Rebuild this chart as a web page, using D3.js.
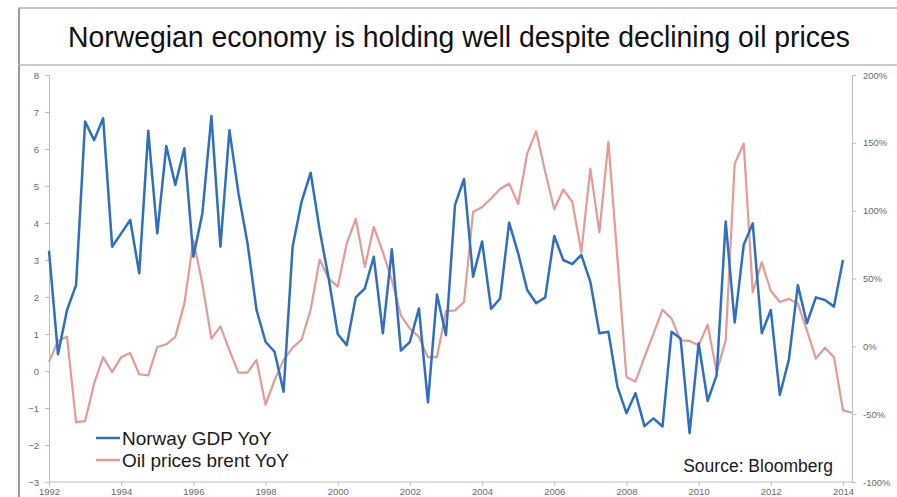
<!DOCTYPE html>
<html>
<head>
<meta charset="utf-8">
<script src="https://cdn.jsdelivr.net/npm/d3@7"></script>
<style>
  html, body { margin: 0; padding: 0; background: #fff; }
  svg { display: block; font-family: "Liberation Sans", Arial, sans-serif; }
</style>
</head>
<body>
<div id="chart"></div>
<script>
// quarterly series, first point is 1992 Q1
const startYear = 1992;
const gdpYoY = [
  3.25, 0.45, 1.65, 2.32, 6.74, 6.24, 6.83, 3.36, 3.72, 4.08,
  2.64, 6.49, 3.72, 6.08, 5.03, 6.02, 3.09, 4.26, 6.89, 3.36,
  6.51, 4.80, 3.46, 1.65, 0.79, 0.52, -0.56, 3.36, 4.58, 5.36,
  3.81, 2.50, 1.00, 0.70, 1.99, 2.23, 3.09, 1.02, 3.29, 0.55,
  0.79, 1.69, -0.85, 2.07, 0.97, 4.49, 5.19, 2.55, 3.50, 1.68,
  1.96, 4.01, 3.18, 2.19, 1.83, 1.99, 3.65, 3.00, 2.89, 3.14,
  2.41, 1.02, 1.06, -0.42, -1.14, -0.60, -1.49, -1.28, -1.50, 1.06,
  0.88, -1.68, 0.75, -0.81, -0.11, 4.04, 1.31, 3.41, 3.99, 1.02,
  1.65, -0.65, 0.30, 2.32, 1.29, 1.99, 1.92, 1.74, 3.00
];
const oilYoY = [
  -11.5, 4, 7, -56, -55, -27.5, -8, -19, -8, -5,
  -20.6, -21.4, -0.5, 1.5, 7, 31.5, 78, 46, 5.7, 14.7,
  -3, -19.4, -19.4, -10, -43, -25, -10, -1, 5, 27,
  64, 50, 44, 75.7, 94, 58.5, 88, 69.5, 48.7, 22.9,
  13, 7, -8, -8, 26, 26.5, 32.7, 99, 102.7, 109,
  116, 120, 105, 142, 158.6, 128.5, 101, 115.6, 106.4, 69.5,
  131, 84, 150.7, 65, -22.6, -26, -8, 9.3, 27, 20.4,
  4.4, 4, 0.7, 16, -19, 4.4, 134.7, 149.5, 40, 62,
  41, 32.7, 35, 31.5, 11.8, -9, -1, -8, -47, -49
];
const yearTicks = [1992, 1994, 1996, 1998, 2000, 2002, 2004, 2006, 2008, 2010, 2012, 2014];
const leftTicks = [-3, -2, -1, 0, 1, 2, 3, 4, 5, 6, 7, 8];
const rightTicks = [-100, -50, 0, 50, 100, 150, 200];
const seriesNames = ["Norway GDP YoY", "Oil prices brent YoY"];

const W = 897, H = 497;
const blue = "#2e70bd", red = "#e59a95", axisGrey = "#bdbdbd", labelGrey = "#6a6a6a";

const svg = d3.select("#chart").append("svg")
    .attr("width", W)
    .attr("height", H);

// frame + title box
svg.append("line")
    .attr("x1", 19).attr("x2", 19).attr("y1", 8).attr("y2", H)
    .attr("stroke", "#9a9a9a").attr("stroke-width", 2);
svg.append("line")
    .attr("x1", 18).attr("x2", W).attr("y1", 8).attr("y2", 8)
    .attr("stroke", "#b0b0b0").attr("stroke-width", 1.5);
svg.append("line")
    .attr("x1", 18).attr("x2", W).attr("y1", 65).attr("y2", 65)
    .attr("stroke", "#b8b8b8").attr("stroke-width", 1.5);

// title is a tall, narrow face in the original: big size, squeezed to fit
svg.append("text")
    .attr("x", 68)
    .attr("y", 47)
    .style("font-family", "'Liberation Sans Narrow', 'Liberation Sans', Arial, sans-serif")
    .style("font-size", "29px")
    .attr("fill", "#111")
    .attr("textLength", 782)
    .attr("lengthAdjust", "spacingAndGlyphs")
    .text("Norwegian economy is holding well despite declining oil prices");

// scales
const x = d3.scaleLinear().domain([1992, 2014.25]).range([49, 852]);
const yLeft = d3.scaleLinear().domain([-3, 8]).range([482, 75]);
const yRight = d3.scaleLinear().domain([-100, 200]).range([482, 75]);

// axes
const bottomAxis = d3.axisBottom(x).tickValues(yearTicks).tickFormat(d3.format("d")).tickSize(4).tickPadding(2);
const leftAxis = d3.axisLeft(yLeft).tickValues(leftTicks).tickSize(4).tickPadding(6);
const rightAxis = d3.axisRight(yRight).tickValues(rightTicks).tickFormat(d => d + "%").tickSize(4).tickPadding(7);

const gx = svg.append("g").attr("transform", "translate(0," + yLeft(-3) + ")").call(bottomAxis);
const gl = svg.append("g").attr("transform", "translate(" + x(1992) + ",0)").call(leftAxis);
const gr = svg.append("g").attr("transform", "translate(" + x(2014.25) + ",0)").call(rightAxis);

[gx, gl, gr].forEach(g => {
  g.select(".domain").attr("stroke", axisGrey);
  g.selectAll(".tick line").attr("stroke", axisGrey);
  g.selectAll(".tick text")
      .attr("fill", labelGrey)
      .style("font-size", "9.5px")
      .style("font-family", "'Liberation Sans', Arial, sans-serif");
});
gx.select(".domain").attr("d", "M" + x(1992) + ",0H" + x(2014.25));

// lines
const line = (scale) => d3.line()
    .x((d, i) => x(startYear + i / 4))
    .y(d => scale(d));

svg.append("path")
    .datum(oilYoY)
    .attr("fill", "none")
    .attr("stroke", red)
    .attr("stroke-width", 2.2)
    .attr("stroke-linejoin", "round")
    .attr("d", line(yRight));

svg.append("path")
    .datum(gdpYoY)
    .attr("fill", "none")
    .attr("stroke", blue)
    .attr("stroke-width", 2.5)
    .attr("stroke-linejoin", "round")
    .attr("d", line(yLeft));

// legend
const legend = svg.append("g").attr("transform", "translate(96,438)");
[blue, red].forEach((c, i) => {
  legend.append("line")
      .attr("x1", 0).attr("x2", 24)
      .attr("y1", i * 22).attr("y2", i * 22)
      .attr("stroke", c).attr("stroke-width", 2.5);
  legend.append("text")
      .attr("x", 26)
      .attr("y", i * 22 + 7)
      .style("font-size", "19px")
      .attr("fill", "#1a1a1a")
      .text(seriesNames[i]);
});

svg.append("text")
    .attr("x", 833)
    .attr("y", 472)
    .attr("text-anchor", "end")
    .style("font-size", "17.5px")
    .attr("fill", "#1a1a1a")
    .text("Source: Bloomberg");
</script>
</body>
</html>
